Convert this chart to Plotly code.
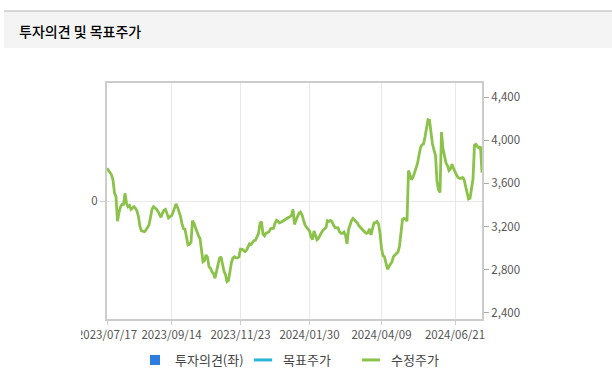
import plotly.graph_objects as go

# Trading-day series (수정주가), one value per trading day
price = [
    3740, 3720, 3700, 3680, 3631, 3510, 3477, 3250, 3330, 3384,
    3405, 3405, 3508, 3416, 3384, 3395, 3360, 3370, 3384, 3369,
    3345, 3290, 3200, 3160, 3153, 3153, 3170, 3195, 3215, 3285,
    3360, 3384, 3375, 3360, 3340, 3310, 3285, 3325, 3354, 3360,
    3310, 3280, 3292, 3300, 3330, 3370, 3410, 3380, 3338, 3295,
    3225, 3180, 3175, 3100, 3030, 3037, 3055, 3255, 3230, 3190,
    3145, 3115, 3090, 3000, 2875, 2885, 2937, 2915, 2829, 2815,
    2780, 2765, 2721, 2785, 2845, 2905, 2920, 2840, 2785, 2755,
    2690, 2700, 2790, 2870, 2910, 2920, 2910, 2910, 2920, 2990,
    2990, 2978, 2968, 2982, 3008, 3040, 3035, 3055, 3070, 3075,
    3110, 3135, 3230, 3246, 3130, 3115, 3140, 3145, 3150, 3180,
    3185, 3185, 3230, 3258, 3248, 3235, 3240, 3250, 3261, 3270,
    3278, 3284, 3292, 3305, 3360, 3220, 3260, 3290, 3325, 3335,
    3310, 3260, 3215, 3195, 3180, 3160, 3107, 3080, 3160, 3115,
    3078, 3090, 3122, 3145, 3165, 3178, 3192, 3255, 3248, 3256,
    3245, 3215, 3192, 3188, 3190, 3152, 3138, 3138, 3150, 3120,
    3040, 3170, 3220, 3255, 3275, 3260, 3246, 3232, 3205, 3188,
    3175, 3160, 3147, 3138, 3145, 3180, 3122, 3178, 3235, 3235,
    3248, 3225, 3140, 3000, 2930, 2920, 2850, 2805, 2830, 2850,
    2875, 2922, 2937, 2950, 2965, 3020, 3138, 3268, 3277, 3270,
    3250, 3720, 3678, 3635, 3655, 3695, 3735, 3785, 3860, 3930,
    3960, 3965, 4030, 4095, 4190, 4185, 4064, 3965, 3909, 3860,
    3620, 3540, 3515, 4075, 3920, 3835, 3790, 3763, 3720, 3735,
    3778, 3740, 3705, 3678, 3655, 3647, 3647, 3655, 3640, 3575,
    3520, 3455, 3462, 3545, 3640, 3955, 3962, 3940, 3930, 3940,
    3700,
]
day_index = list(range(len(price)))

tick_labels = ["2023/07/17", "2023/09/14", "2023/11/23", "2024/01/30", "2024/04/09", "2024/06/21"]
tick_days = [0, 43, 89, 135, 183, 232]

right_ticks = [2400, 2800, 3200, 3600, 4000, 4400]
left_ticks = [0]

series_names = ["투자의견(좌)", "목표주가", "수정주가"]
series_colors = ["#2b7de0", "#2bb5d8", "#8bc24a"]

FONT = "Noto Sans CJK KR"

fig = go.Figure()

# legend-only entries
fig.add_trace(go.Scatter(x=[None], y=[None], mode="markers", name=series_names[0],
                         marker=dict(symbol="square", size=10, color=series_colors[0]),
                         yaxis="y"))
fig.add_trace(go.Scatter(x=[None], y=[None], mode="markers", name=series_names[1],
                         marker=dict(symbol="line-ew", size=13,
                                     line=dict(color=series_colors[1], width=3)),
                         yaxis="y2"))
fig.add_trace(go.Scatter(x=[None], y=[None], mode="markers", name=series_names[2],
                         marker=dict(symbol="line-ew", size=13,
                                     line=dict(color=series_colors[2], width=3)),
                         yaxis="y2"))

# price line
fig.add_trace(go.Scatter(x=day_index, y=price, mode="lines", name=series_names[2],
                         line=dict(color=series_colors[2], width=2.8),
                         showlegend=False, yaxis="y2", hoverinfo="skip"))

L, R, T, B = 107, 130, 83, 73
W, H = 612, 392
pw, ph = W - L - R, H - T - B

def px_x(px):
    return (px - L) / pw

def px_y(py):
    return (H - B - py) / ph

fig.update_layout(
    width=W, height=H,
    margin=dict(l=L, r=R, t=T, b=B, pad=0),
    paper_bgcolor="white", plot_bgcolor="white",
    font=dict(family=FONT, size=11, color="#555555"),
    xaxis=dict(range=[0, len(price) - 1], tickvals=tick_days, ticktext=tick_labels,
               showgrid=True, gridcolor="#e8e8e8", gridwidth=1,
               ticks="outside", ticklen=4, tickcolor="#cccccc",
               showline=True, linecolor="#cccccc", linewidth=2, mirror=True,
               zeroline=False, tickfont=dict(size=11.5, color="#555555")),
    yaxis=dict(range=[-1, 1], tickvals=left_ticks, ticktext=["0"],
               showgrid=True, gridcolor="#e8e8e8", zeroline=False,
               ticks="outside", ticklen=5, tickcolor="#cccccc",
               showline=True, linecolor="#cccccc", linewidth=2,
               tickfont=dict(size=11.5, color="#555555")),
    yaxis2=dict(range=[2344, 4530], tickvals=right_ticks, tickformat=",",
                overlaying="y", side="right", showgrid=False, zeroline=False,
                ticks="outside", ticklen=5, tickcolor="#aaaaaa",
                showline=True, linecolor="#cccccc", linewidth=2,
                tickfont=dict(size=11.5, color="#555555")),
    legend=dict(orientation="h", x=px_x(135), y=px_y(345), xanchor="left", yanchor="top",
                font=dict(size=13, color="#444444"), itemwidth=30,
                entrywidth=63, entrywidthmode="pixels",
                bgcolor="rgba(0,0,0,0)"),
    showlegend=True,
)

# header band
fig.add_shape(type="rect", xref="paper", yref="paper",
              x0=px_x(4), x1=px_x(612), y0=px_y(48), y1=px_y(11),
              fillcolor="#f4f4f4", line=dict(width=0), layer="below")
fig.add_shape(type="line", xref="paper", yref="paper",
              x0=px_x(4), x1=px_x(612), y0=px_y(11), y1=px_y(11),
              line=dict(color="#b4b4b4", width=1))
fig.add_annotation(text="투자의견 및 목표주가", xref="paper", yref="paper",
                   x=px_x(17), y=px_y(31), xanchor="left", yanchor="middle",
                   showarrow=False,
                   font=dict(family=FONT, size=14, color="#000000", weight=500))

# clip of the first date label at the chart container edge
fig.add_shape(type="rect", xref="paper", yref="paper",
              x0=px_x(0), x1=px_x(81), y0=px_y(345), y1=px_y(324),
              fillcolor="white", line=dict(width=0), layer="above")

fig.write_html("out.html", config={"displayModeBar": False},
               post_script="document.body.style.margin='0px';")
